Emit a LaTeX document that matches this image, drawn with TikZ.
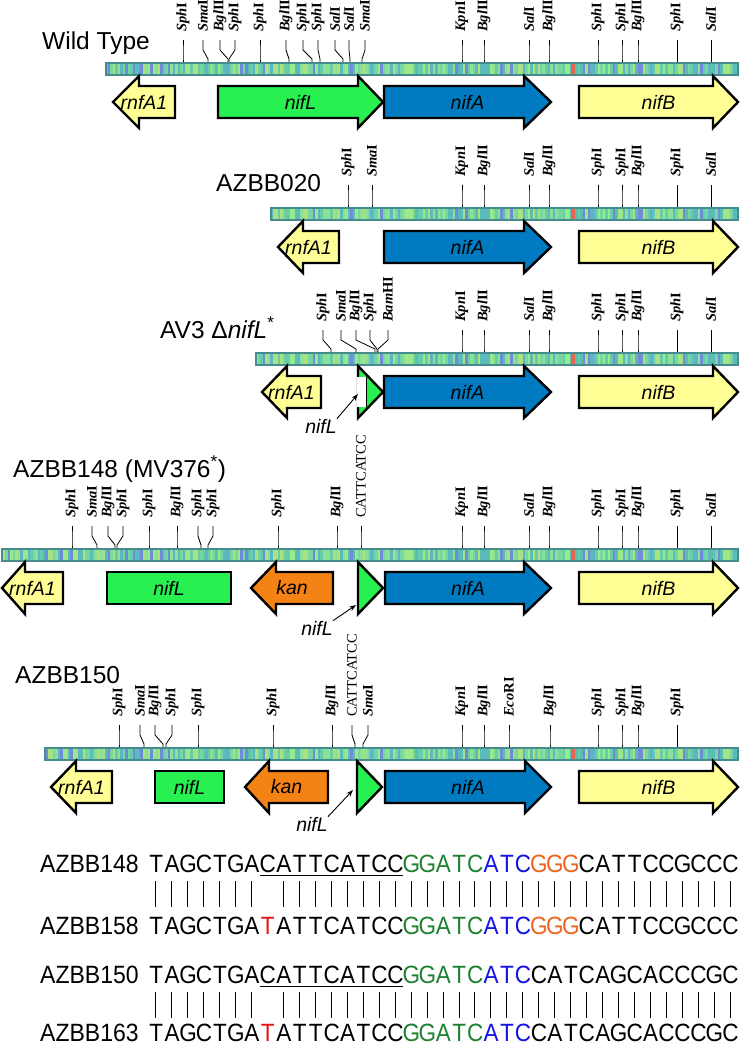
\documentclass[tikz,border=0pt]{standalone}
\usepackage{fontspec}
\usepackage{graphicx}
\setmainfont{Liberation Serif}
\newfontfamily\arial{Liberation Sans}
\usetikzlibrary{arrows.meta}
\definecolor{cYel}{RGB}{255,255,150}
\definecolor{cGrn}{RGB}{40,240,80}
\definecolor{cBlu}{RGB}{0,122,192}
\definecolor{cOrg}{RGB}{245,130,20}
\definecolor{barEdge}{RGB}{70,140,140}
\definecolor{s1}{RGB}{100,205,170}
\definecolor{s2}{RGB}{140,225,150}
\definecolor{s3}{RGB}{120,215,160}
\definecolor{s4}{RGB}{95,180,200}
\definecolor{s5}{RGB}{110,140,215}
\definecolor{s6}{RGB}{170,225,130}
\definecolor{s7}{RGB}{90,190,180}
\definecolor{s8}{RGB}{150,235,140}
\definecolor{sred}{RGB}{235,100,80}
\definecolor{seqG}{RGB}{30,130,50}
\definecolor{seqB}{RGB}{20,20,230}
\definecolor{seqO}{RGB}{240,100,30}
\definecolor{seqR}{RGB}{230,20,20}
\newcommand\eSph{\textit{Sph}I}
\newcommand\eSma{\textit{Sma}I}
\newcommand\eBgl{\textit{Bgl}II}
\newcommand\eSal{\textit{Sal}I}
\newcommand\eKpn{\textit{Kpn}I}
\newcommand\eBam{\textit{Bam}HI}
\newcommand\eEco{\textit{Eco}RI}
\newcommand\eCat{{\mdseries CATTCATCC}}
\newcommand\Gc{\color{seqG}}
\newcommand\Bc{\color{seqB}}
\newcommand\Oc{\color{seqO}}
\newcommand\Rc{\color{seqR}}
\newlength\cw \setlength\cw{15.95pt}
\def\sqend{\sqend}
\def\sqloop#1{\ifx\sqend#1\else\makebox[\cw][c]{\scalebox{0.9}[1]{#1}}\expandafter\sqloop\fi}
\tikzset{
 gene/.style={draw=black, line width=2.4pt, line join=miter},
 glabel/.style={font=\arial\itshape\fontsize{19.5}{20}\selectfont, inner sep=0},
 enz/.style={font=\bfseries\fontsize{14.5}{15}\selectfont, rotate=90, anchor=west, inner sep=0},
 siteline/.style={draw=black, line width=0.8pt},
 strain/.style={font=\arial\fontsize{24.5}{26}\selectfont, anchor=base west, inner sep=0},
 ptr/.style={font=\arial\itshape\fontsize{19.5}{20}\selectfont, inner sep=0},
 ptrarrow/.style={-{Stealth[length=7pt,width=5pt]}, line width=0.9pt},
 seqtxt/.style={font=\arial\fontsize{25}{26}\selectfont, anchor=base west, inner sep=0},
 seqbar/.style={draw=black, line width=1pt},
}
\newcommand\stripes[2]{%
 \pgfmathsetseed{4}%
 \foreach \k in {0,...,296}{%
  \pgfmathrandominteger{\cc}{1}{8}%
  \fill[s\cc] (\k*2.5,#1) rectangle (\k*2.5+2.6,#2);
 }%
 \fill[sred] (571,#1) rectangle (574.5,#2);
}
\newcommand\gbar[3]{%
 \begin{scope}
  \clip (#1,#3+1) rectangle (#2,#3+13);
  \stripes{#3}{#3+14}
 \end{scope}
 \draw[barEdge, line width=2pt] (#1,#3+1) rectangle (#2,#3+13);
}
\newcommand\sites[3]{%
 \foreach \lx/\sx/\tx [count=\n] in {#3} {%
  \node[enz] (#1-\n) at (\lx, #2-30) {\tx};
  \draw[siteline] (#1-\n.west) ++(0,8) -- ++(0,10) -- (\sx,#2-3) -- (\sx,#2);
 }}
\newcommand\rgene[7]{%
 \draw[gene, fill=#6] (#2,#5-16) -- (#3,#5-16) -- (#3,#5-26) -- (#4,#5) -- (#3,#5+26) -- (#3,#5+16) -- (#2,#5+16) -- cycle;
 \node[glabel] (#1) at ({(#2+#4)/2}, #5) {#7};}
\newcommand\bgene[6]{%
 \draw[gene, fill=#5] (#2,#4-16) rectangle (#3,#4+16);
 \node[glabel] (#1) at ({(#2+#3)/2},#4) {#6};}
\newcommand\frag[2]{%
 \draw[gene, fill=cGrn] (#1,#2-26) -- (#1+25,#2) -- (#1,#2+26) -- cycle;}
\begin{document}
\begin{tikzpicture}[x=1pt,y=-1pt]
\useasboundingbox[fill=white] (0,0) rectangle (742,1046);
% ---------------- Wild type
\node[strain] (wt) at (42,50) {Wild Type};
\gbar{106}{738}{62}
\sites{wt}{62}{183/183/\eSph, 203/208/\eSma, 220/228/\eBgl, 235/229/\eSph, 260/260/\eSph, 286/289/\eBgl, 303/312/\eSph, 318/320/\eSph, 335/343/\eSal, 349/350/\eSal, 365/362/\eSma, 462/462/\eKpn, 484/484/\eBgl, 529/529/\eSal, 549/549/\eBgl, 598/598/\eSph, 622/622/\eSph, 638/638/\eBgl, 677/677/\eSph, 711/711/\eSal}
\rgene{wtR}{175}{139}{113}{102}{cYel}{rnfA1}
\rgene{wtL}{218}{358}{383}{102}{cGrn}{nifL}
\rgene{wtA}{384}{524}{551}{102}{cBlu}{nifA}
\rgene{wtB}{579}{713}{738}{102}{cYel}{nifB}
% ---------------- AZBB020
\node[strain] (s020) at (216,191) {AZBB020};
\gbar{271}{738}{207}
\sites{a}{207}{348/348/\eSph, 372/372/\eSma, 462/462/\eKpn, 484/484/\eBgl, 529/529/\eSal, 549/549/\eBgl, 598/598/\eSph, 622/622/\eSph, 638/638/\eBgl, 677/677/\eSph, 711/711/\eSal}
\rgene{aR}{339}{303}{278}{247}{cYel}{rnfA1}
\rgene{aA}{384}{524}{551}{247}{cBlu}{nifA}
\rgene{aB}{579}{713}{738}{247}{cYel}{nifB}
% ---------------- AV3
\node[strain] (av3) at (160,338) {AV3 Δ\textit{nifL}\textsuperscript{*}};
\gbar{256}{738}{352}
\sites{b}{352}{323/331/\eSph, 341/356/\eSma, 356/375/\eBgl, 370/377/\eSph, 388/378/\eBam, 462/462/\eKpn, 484/484/\eBgl, 529/529/\eSal, 549/549/\eBgl, 598/598/\eSph, 622/622/\eSph, 638/638/\eBgl, 677/677/\eSph, 711/711/\eSal}
\rgene{bR}{321}{287}{262}{392}{cYel}{rnfA1}
\frag{358}{392}
\fill[white] (357,377) rectangle (366,407);
\draw[black, line width=1.6pt] (366.5,377) -- (366.5,407);
\coordinate (bF) at (358,394);
\rgene{bA}{384}{524}{551}{392}{cBlu}{nifA}
\rgene{bB}{579}{713}{738}{392}{cYel}{nifB}
\node[ptr] (bP) at (321,426) {nifL};
\draw[ptrarrow] (bP.north east) -- (bF);
% ---------------- AZBB148
\node[strain] (s148) at (13,477) {AZBB148 (MV376\textsuperscript{*})};
\gbar{2}{738}{548}
\sites{c}{548}{72/72/\eSph, 92/97/\eSma, 108/115/\eBgl, 123/117/\eSph, 149/149/\eSph, 177/177/\eBgl, 198/201/\eSph, 213/208/\eSph, 278/278/\eSph, 337/337/\eBgl, 361/361/\eCat, 462/462/\eKpn, 484/484/\eBgl, 529/529/\eSal, 549/549/\eBgl, 598/598/\eSph, 622/622/\eSph, 638/638/\eBgl, 677/677/\eSph, 711/711/\eSal}
\rgene{cR}{63}{25}{2}{588}{cYel}{rnfA1}
\bgene{cL}{107}{231}{588}{cGrn}{nifL}
\rgene{cK}{333}{276}{251}{588}{cOrg}{kan}
\frag{358}{588}
\coordinate (cF) at (356,605);
\rgene{cA}{385}{524}{551}{588}{cBlu}{nifA}
\rgene{cB}{579}{713}{738}{588}{cYel}{nifB}
\node[ptr] (cP) at (317,628) {nifL};
\draw[ptrarrow] (cP.north east) -- (cF);
% ---------------- AZBB150
\node[strain] (s150) at (15,683) {AZBB150};
\gbar{45}{738}{747}
\sites{d}{747}{119/119/\eSph, 140/144/\eSma, 155/163/\eBgl, 172/166/\eSph, 198/198/\eSph, 273/273/\eSph, 332/332/\eBgl, 352/355/\eCat, 368/363/\eSma, 462/462/\eKpn, 484/484/\eBgl, 509/509/\eEco, 550/550/\eBgl, 598/598/\eSph, 622/622/\eSph, 638/638/\eBgl, 677/677/\eSph}
\rgene{dR}{112}{76}{51}{787}{cYel}{rnfA1}
\bgene{dL}{155}{224}{787}{cGrn}{nifL}
\rgene{dK}{328}{269}{245}{787}{cOrg}{kan}
\frag{357}{787}
\coordinate (dF) at (353,790);
\rgene{dA}{385}{525}{551}{787}{cBlu}{nifA}
\rgene{dB}{579}{713}{738}{787}{cYel}{nifB}
\node[ptr] (dP) at (312,824) {nifL};
\draw[ptrarrow] (dP.north east) -- (dF);
% ---------------- Sequences
\node[seqtxt] (n1) at (40,872) {\scalebox{0.92}[1]{AZBB148}};
\node[seqtxt] (q1) at (148,872) {\sqloop TAGCTGACATTCATCC{\Gc G}{\Gc G}{\Gc A}{\Gc T}{\Gc C}{\Bc A}{\Bc T}{\Bc C}{\Oc G}{\Oc G}{\Oc G}CATTCCGCCC\sqend};
\draw[line width=1pt] ({148+7*15.95},875) -- ({148+16*15.95},875);
\foreach \i in {1,...,7,9,10,...,37} \draw[seqbar] ({148+(\i-0.5)*15.95},881) -- ++(0,26);
\node[seqtxt] (n2) at (40,934) {\scalebox{0.92}[1]{AZBB158}};
\node[seqtxt] (q2) at (148,934) {\sqloop TAGCTGA{\Rc T}ATTCATCC{\Gc G}{\Gc G}{\Gc A}{\Gc T}{\Gc C}{\Bc A}{\Bc T}{\Bc C}{\Oc G}{\Oc G}{\Oc G}CATTCCGCCC\sqend};
\node[seqtxt] (n3) at (40,983) {\scalebox{0.92}[1]{AZBB150}};
\node[seqtxt] (q3) at (148,983) {\sqloop TAGCTGACATTCATCC{\Gc G}{\Gc G}{\Gc A}{\Gc T}{\Gc C}{\Bc A}{\Bc T}{\Bc C}CATCAGCACCCGC\sqend};
\draw[line width=1pt] ({148+7*15.95},986) -- ({148+16*15.95},986);
\foreach \i in {1,...,7,9,10,...,37} \draw[seqbar] ({148+(\i-0.5)*15.95},992) -- ++(0,26);
\node[seqtxt] (n4) at (40,1041) {\scalebox{0.92}[1]{AZBB163}};
\node[seqtxt] (q4) at (148,1041) {\sqloop TAGCTGA{\Rc T}ATTCATCC{\Gc G}{\Gc G}{\Gc A}{\Gc T}{\Gc C}{\Bc A}{\Bc T}{\Bc C}CATCAGCACCCGC\sqend};
\end{tikzpicture}
\end{document}
